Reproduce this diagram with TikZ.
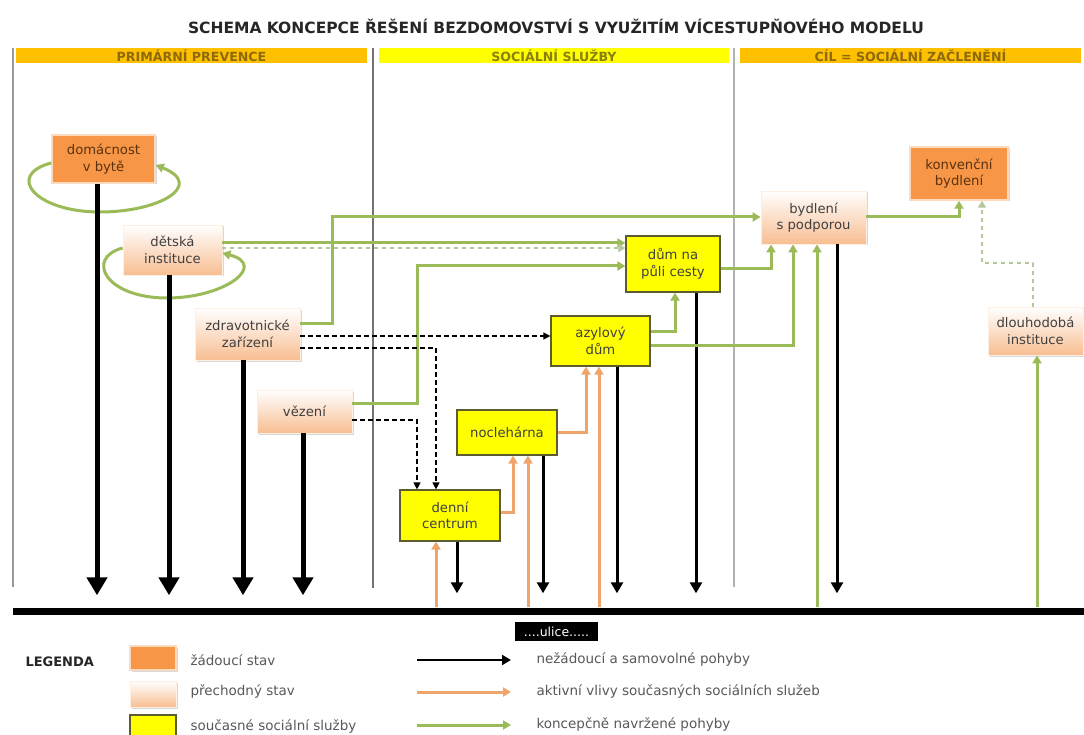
\documentclass[tikz,border=0pt]{standalone}
\usepackage{fontspec}
\setmainfont{DejaVu Sans}
\usetikzlibrary{arrows.meta,shadows}
\definecolor{gline}{HTML}{9BBB59}
\definecolor{oline}{HTML}{EFA46C}
\definecolor{dline}{HTML}{B5C79D}
\definecolor{orangebox}{HTML}{F79646}
\definecolor{peach}{HTML}{F8BE92}
\definecolor{barorange}{HTML}{FFC000}
\definecolor{baryellow}{HTML}{FFFF00}
\definecolor{bartext}{HTML}{8C6A0A}
\definecolor{bartextb}{HTML}{8A8010}
\definecolor{txt}{HTML}{404040}
\definecolor{brtxt}{HTML}{5A3210}
\definecolor{servborder}{HTML}{5C5C30}
\definecolor{legtxt}{HTML}{595959}
\begin{document}
\begin{tikzpicture}[x=1pt,y=-1pt,
  box/.style={rectangle, inner sep=0pt, align=center, text=txt, font=\fontsize{13.2}{16.5}\selectfont},
  want/.style={box, fill=orangebox, draw=orangebox!35, line width=1.5pt, text=brtxt,
     drop shadow={shadow xshift=1.5pt,shadow yshift=-1.5pt,opacity=0.3}},
  trans/.style={box, top color=white, bottom color=peach, draw=orangebox!15, line width=0.8pt,
     drop shadow={shadow xshift=1.5pt,shadow yshift=-1.5pt,opacity=0.3}},
  serv/.style={box, fill=baryellow, draw=servborder, line width=1.2pt},
  bar/.style={inner sep=0pt, minimum height=15pt, font=\bfseries\fontsize{12.6}{13}\selectfont},
  divider/.style={line width=1.3pt},
  big/.style={line width=5pt, -{Triangle[width=20pt,length=18pt]}},
  blk/.style={line width=3pt, -{Triangle[width=12pt,length=11pt]}},
  grn/.style={gline, line width=3pt, -{Triangle[width=9pt,length=8pt]}},
  org/.style={oline, line width=3pt, -{Triangle[width=9pt,length=8pt]}},
  dsh/.style={black, line width=1.3pt, dash pattern=on 5pt off 3pt, -{Triangle[width=7pt,length=7pt]}},
  gdsh/.style={dline, line width=1.8pt, dash pattern=on 4pt off 4pt, -{Triangle[width=8pt,length=7pt]}},
  legtext/.style={anchor=west, text=legtxt, font=\fontsize{13.5}{15}\selectfont}
]
\useasboundingbox[fill=white] (0,0) rectangle (1084,735);

% title
\node[font=\bfseries\fontsize{15.5}{17}\selectfont, text=black!85] (title) at (556,26)
  {SCHEMA KONCEPCE ŘEŠENÍ BEZDOMOVSTVÍ S VYUŽITÍM VÍCESTUPŇOVÉHO MODELU};

% header bars
\node[bar, fill=barorange, minimum width=351pt, text=bartext] (h1) at (191.5,56) {PRIMÁRNÍ PREVENCE};
\node[bar, fill=baryellow, minimum width=350pt, text=bartextb] (h2) at (554,56) {SOCIÁLNÍ SLUŽBY};
\node[bar, fill=barorange, minimum width=341pt, text=bartext] (h3) at (910.5,56) {CÍL = SOCIÁLNÍ ZAČLENĚNÍ};

% dividers
\draw[divider, black!40] (13,48) -- (13,587);
\draw[divider, black!55] (373,48) -- (373,588);
\draw[divider, black!30, line width=2pt] (734,48) -- (734,587);

% street
\node[fill=black, minimum width=1071pt, minimum height=7pt, inner sep=0pt] (street) at (548,611) {};
\node[fill=black, text=white, inner sep=0pt, minimum width=83pt, minimum height=19pt,
      font=\fontsize{12.5}{13}\selectfont] (ulice) at (556.5,631.5) {....ulice.....};

% nodes
\node[want, minimum width=103pt, minimum height=48pt] (dom) at (103.5,159) {domácnost\\v bytě};
\node[trans, minimum width=99pt, minimum height=50pt] (det) at (172.5,250) {dětská\\instituce};
\node[trans, minimum width=105pt, minimum height=52pt] (zdr) at (247.5,334) {zdravotnické\\zařízení};
\node[trans, minimum width=95pt, minimum height=43pt] (vez) at (304.5,411.5) {vězení};
\node[serv, minimum width=94pt, minimum height=56pt] (dum) at (673,264) {dům na\\půli cesty};
\node[serv, minimum width=99pt, minimum height=50pt] (azyl) at (600.5,341) {azylový\\dům};
\node[serv, minimum width=100pt, minimum height=45pt] (nocl) at (507,432.5) {noclehárna};
\node[serv, minimum width=100pt, minimum height=51pt] (denni) at (450,515.5) {denní\\centrum};
\node[trans, minimum width=105pt, minimum height=53pt] (byd) at (813.5,217.5) {bydlení\\s podporou};
\node[want, minimum width=98pt, minimum height=53pt] (konv) at (959,173.5) {konvenční\\bydlení};
\node[trans, minimum width=95pt, minimum height=48pt] (dlh) at (1035.5,331) {dlouhodobá\\instituce};

% loops
\draw[grn] (dom.west |- 0,163) .. controls (5,175) and (35,212) .. (100,212)
   .. controls (160,212) and (205,185) .. (dom.east |- 0,165);
\draw[grn] (det.west |- 0,248) .. controls (85,258) and (105,298) .. (167,298)
   .. controls (225,298) and (268,265) .. (det.east |- 0,253);

% black thick arrows down (primary prevention)
\draw[big, shorten >=12pt] (dom.south -| 97,0) -- (street.north -| 97,0);
\draw[big, shorten >=12pt] (det.south -| 169,0) -- (street.north -| 169,0);
\draw[big, shorten >=12pt] (zdr.south -| 243,0) -- (street.north -| 243,0);
\draw[big, shorten >=12pt] (vez.south -| 303,0) -- (street.north -| 303,0);

% black arrows down (services)
\draw[blk, shorten >=14pt] (denni.south -| 457,0) -- (street.north -| 457,0);
\draw[blk, shorten >=14pt] (nocl.south -| 543,0) -- (street.north -| 543,0);
\draw[blk, shorten >=14pt] (azyl.south -| 617,0) -- (street.north -| 617,0);
\draw[blk, shorten >=14pt] (dum.south -| 696,0) -- (street.north -| 696,0);
\draw[blk, shorten >=14pt] (byd.south -| 837,0) -- (street.north -| 837,0);

% green arrows
\draw[grn] (zdr.east |- 0,323) -- (332,323) -- (332,217) -- (byd.west |- 0,217);
\draw[grn] (det.east |- 0,243) -- (dum.west |- 0,243);
\draw[gdsh] (det.east |- 0,248) -- (dum.west |- 0,248);
\draw[grn] (vez.east |- 0,403) -- (417,403) -- (417,266) -- (dum.west |- 0,266);
\draw[grn] (azyl.east |- 0,331) -- (675,331) -- (dum.south -| 675,0);
\draw[grn] (azyl.east |- 0,345) -- (793,345) -- (byd.south -| 793,0);
\draw[grn] (dum.east |- 0,269) -- (771,269) -- (byd.south -| 771,0);
\draw[grn] (byd.east |- 0,217) -- (959,217) -- (konv.south -| 959,0);
\draw[grn] (street.north -| 817,0) -- (byd.south -| 817,0);
\draw[grn] (street.north -| 1037,0) -- (dlh.south -| 1037,0);
\draw[gdsh] (dlh.north -| 1033,0) -- (1033,263) -- (982,263) -- (konv.south -| 982,0);

% black dashed
\draw[dsh] (zdr.east |- 0,336) -- (azyl.west |- 0,336);
\draw[dsh] (zdr.east |- 0,348) -- (436,348) -- (denni.north -| 436,0);
\draw[dsh] (vez.east |- 0,420) -- (417,420) -- (denni.north -| 417,0);

% orange arrows
\draw[org] (street.north -| 436,0) -- (denni.south -| 436,0);
\draw[org] (denni.east |- 0,512) -- (513,512) -- (nocl.south -| 513,0);
\draw[org] (street.north -| 528,0) -- (nocl.south -| 528,0);
\draw[org] (nocl.east |- 0,432) -- (586,432) -- (azyl.south -| 586,0);
\draw[org] (street.north -| 599,0) -- (azyl.south -| 599,0);

% legend
\node[anchor=west, font=\bfseries\fontsize{13}{14}\selectfont, text=black!85] (leg) at (22,662) {LEGENDA};
\node[want, minimum width=46pt, minimum height=24pt] (lg1) at (153,658) {};
\node[trans, minimum width=46pt, minimum height=26pt] (lg2) at (153,694) {};
\node[serv, minimum width=46pt, minimum height=24pt] (lg3) at (153,727) {};
\node[legtext] (lt1) at (187,660) {žádoucí stav};
\node[legtext] (lt2) at (187,692) {přechodný stav};
\node[legtext] (lt3) at (187,726) {současné sociální služby};
\coordinate (la1) at (417,660); \coordinate (lb1) at (511,660);
\coordinate (la2) at (417,692); \coordinate (lb2) at (511,692);
\coordinate (la3) at (417,725); \coordinate (lb3) at (511,725);
\draw[line width=2.5pt, -{Triangle[width=10pt,length=9pt]}] (la1) -- (lb1);
\draw[org] (la2) -- (lb2);
\draw[grn] (la3) -- (lb3);
\node[legtext] (lr1) at (533,660) {nežádoucí a samovolné pohyby};
\node[legtext] (lr2) at (533,692) {aktivní vlivy současných sociálních služeb};
\node[legtext] (lr3) at (533,725) {koncepčně navržené pohyby};
\end{tikzpicture}
\end{document}
